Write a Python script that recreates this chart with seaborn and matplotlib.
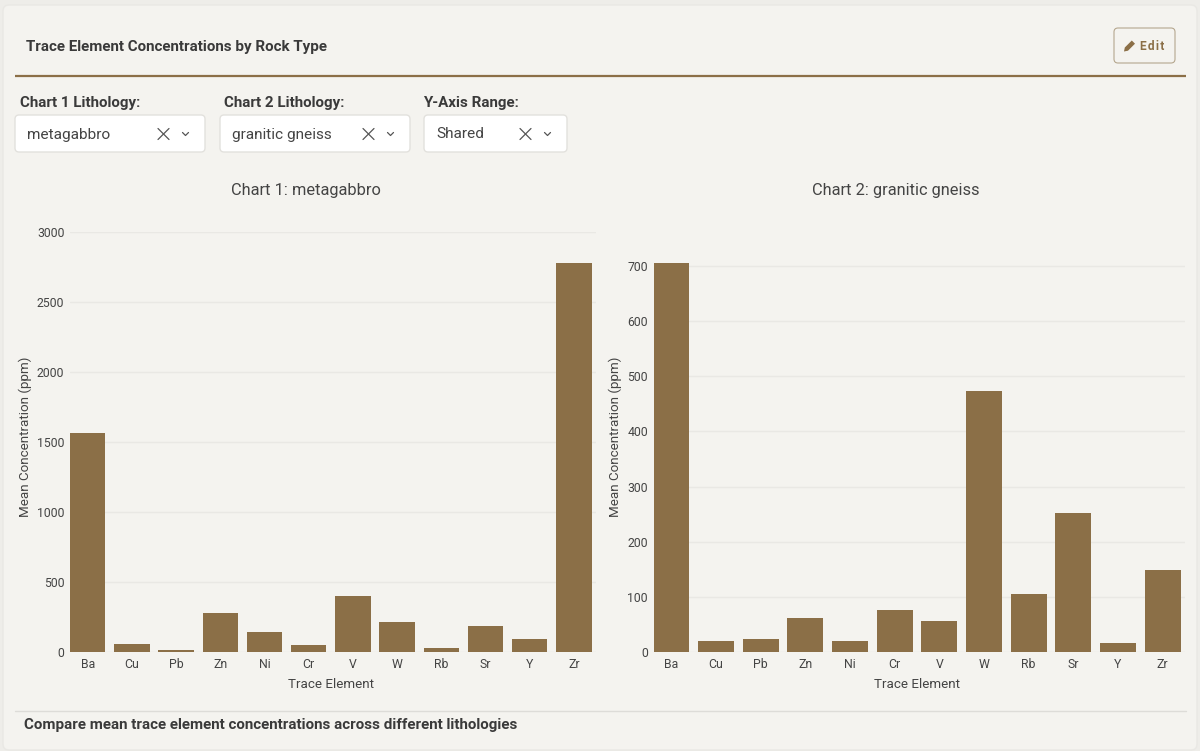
import matplotlib
matplotlib.use("Agg")
import matplotlib.pyplot as plt
from matplotlib.patches import FancyBboxPatch, Polygon
import pandas as pd
import seaborn as sns

elements = ["Ba", "Cu", "Pb", "Zn", "Ni", "Cr", "V", "W", "Rb", "Sr", "Y", "Zr"]
metagabbro = [1564, 60, 17, 278, 141, 48, 398, 212, 26, 185, 95, 2780]
granitic_gneiss = [705, 20, 23, 62, 20, 77, 57, 474, 106, 252, 17, 149]
ticks_left = [0, 500, 1000, 1500, 2000, 2500, 3000]
ticks_right = [0, 100, 200, 300, 400, 500, 600, 700]

BG = "#f4f3ef"
OUTER = "#eeede9"
BROWN = "#8b6f47"
TEXT = "#3a3a3a"
GRID = "#e9e8e4"
W, H = 1200, 751

sns.set_theme(style="white")
plt.rcParams["font.family"] = ["Roboto", "DejaVu Sans"]

fig = plt.figure(figsize=(12, 7.51), dpi=100, facecolor=OUTER)

ui = fig.add_axes([0, 0, 1, 1], zorder=0)
ui.set_xlim(0, W)
ui.set_ylim(H, 0)
ui.axis("off")


def box(x, y, w, h, fc, ec, r=4, lw=1.0):
    ui.add_patch(FancyBboxPatch((x, y), w, h, boxstyle=f"round,pad=0,rounding_size={r}",
                                fc=fc, ec=ec, lw=lw))


box(3, 5, 1194, 745, BG, "#e9e8e4", r=6)
ui.text(26, 46.5, "Trace Element Concentrations by Rock Type", fontsize=10.88,
        fontweight="bold", color=TEXT, va="center")
ui.plot([15, 1186], [75.5, 75.5], color=BROWN, lw=1.6, solid_capstyle="butt")

box(1114, 28, 61, 35, BG, "#b5a78f", r=4, lw=0.8)
ui.add_patch(Polygon([(1124, 51.5), (1124.8, 47.5), (1131.8, 40.5), (1135, 43.7), (1128, 50.7)],
                     closed=True, fc=BROWN, ec="none"))
ui.text(1140, 46, "E\u200ad\u200ai\u200at", fontsize=8.6, fontweight="bold", color=BROWN, va="center")

dropdowns = [
    ("Chart 1 Lithology:", "metagabbro", 15, 190, 5),
    ("Chart 2 Lithology:", "granitic gneiss", 220, 190, 4.5),
    ("Y-Axis Range:", "Shared", 424, 143, -0.5),
]
for label, value, x, w, off in dropdowns:
    ui.text(x + off, 102.5, label, fontsize=10.9, fontweight="bold", color=TEXT, va="center")
    box(x, 115, w, 37, "white", "#e2e1dd", r=4)
    ui.text(x + 12, 134.5, value, fontsize=11.1, color="#444444", va="center")
    cx = x + w - 41.5
    ui.plot([cx - 5.5, cx + 5.5], [128.5, 139.5], color="#555555", lw=0.9)
    ui.plot([cx - 5.5, cx + 5.5], [139.5, 128.5], color="#555555", lw=0.9)
    chev = x + w - 19.5
    ui.plot([chev - 3, chev, chev + 3], [132.5, 135.5, 132.5], color="#555555", lw=0.9)

ui.plot([15, 1186], [710.5, 710.5], color="#dddcd8", lw=1)
ui.text(24, 725, "Compare mean trace element concentrations across different lithologies",
        fontsize=10.93, fontweight="bold", color=TEXT, va="center")


def make_axes(x0, x1, y_top, y_bottom):
    return fig.add_axes([x0 / W, 1 - y_bottom / H, (x1 - x0) / W, (y_bottom - y_top) / H],
                        facecolor="none", zorder=1)


def draw(ax, values, ticks, ymax, title, title_x, width, label_offset, xlabel_x):
    df = pd.DataFrame({"element": elements, "value": values})
    sns.barplot(data=df, x="element", y="value", color=BROWN, saturation=1, width=0.8,
                order=elements, ax=ax, zorder=3, linewidth=0, edgecolor="none")
    ax.set_xlim(-0.4, 11.5)
    ax.set_ylim(0, ymax)
    ax.set_yticks(ticks)
    ax.set_yticklabels([str(t) for t in ticks])
    ax.yaxis.grid(True, color=GRID, lw=1)
    ax.xaxis.grid(False)
    ax.set_axisbelow(True)
    for s in ax.spines.values():
        s.set_visible(False)
    ax.tick_params(axis="both", length=0, labelsize=8.8, labelcolor="#444444")
    ax.tick_params(axis="x", pad=4)
    ax.tick_params(axis="y", pad=4)
    ax.set_xlabel("Trace Element", fontsize=9.6, color="#444444")
    ax.xaxis.set_label_coords(xlabel_x / width, -26 / 420)
    ax.set_ylabel("Mean Concentration (ppm)", fontsize=9.6, color="#444444")
    ax.yaxis.set_label_coords(label_offset / width, (652 - 436.5) / 420)
    ui.text(title_x, 190, title, fontsize=11.8, color="#444444", ha="center", va="center")


ax1 = make_axes(70, 596, 232, 652)
ax2 = make_axes(653.5, 1185, 232, 652)
draw(ax1, metagabbro, ticks_left, 3000, "Chart 1: metagabbro", 306, 526, -38.1, 261)
draw(ax2, granitic_gneiss, ticks_right, 420 / (386 / 700), "Chart 2: granitic gneiss", 896, 531.5, -32, 263.5)

fig.savefig("out.png", dpi=100, facecolor=fig.get_facecolor())
